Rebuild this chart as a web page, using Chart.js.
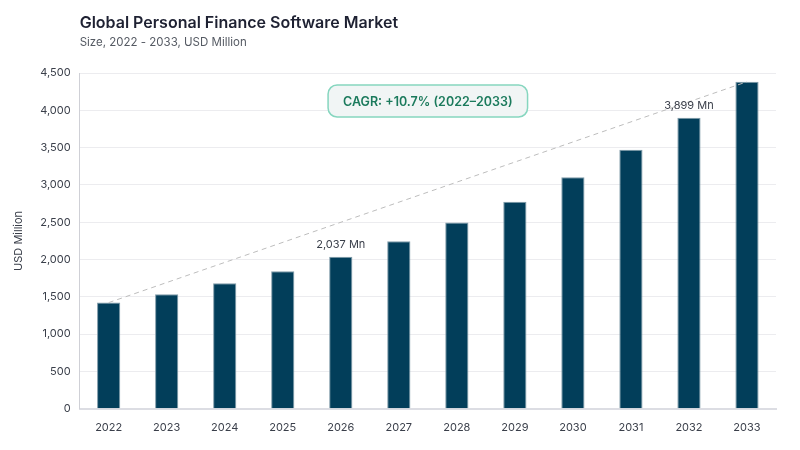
<!DOCTYPE html>
<html>
<head>
<meta charset="utf-8">
<script src="https://cdn.jsdelivr.net/npm/chart.js@4"></script>
<style>
  html, body { margin: 0; padding: 0; background: #fff; }
  #wrap { width: 800px; height: 450px; }
</style>
</head>
<body>
<div id="wrap"><canvas id="marketChart" width="800" height="450"></canvas></div>
<script>
const years = ['2022', '2023', '2024', '2025', '2026', '2027', '2028', '2029', '2030', '2031', '2032', '2033'];
const marketSize = [1423, 1536, 1683, 1844, 2037, 2245, 2495, 2776, 3102, 3472, 3899, 4383];
const yTicks = [0, 500, 1000, 1500, 2000, 2500, 3000, 3500, 4000, 4500];
const calloutYears = ['2026', '2032'];
const cagrText = 'CAGR: +10.7% (2022\u20132033)';

// trend line only from first to last year
const trend = marketSize.map((v, i) => (i === 0 || i === marketSize.length - 1) ? v : null);

const fontFamily = 'Inter, "Noto Sans", sans-serif';

const extrasPlugin = {
    id: 'extras',
    afterDatasetsDraw(chart) {
        const ctx = chart.ctx;
        const x = chart.scales.x;
        const y = chart.scales.y;
        const area = chart.chartArea;
        ctx.save();

        // title and subtitle
        ctx.textAlign = 'left';
        ctx.textBaseline = 'alphabetic';
        ctx.fillStyle = '#1e2132';
        ctx.font = '600 16px ' + fontFamily;
        ctx.fillText('Global Personal Finance Software Market', area.left, 28);
        ctx.fillStyle = '#555a63';
        ctx.font = '11.5px ' + fontFamily;
        ctx.fillText('Size, 2022 - 2033, USD Million', area.left, 46);

        // value callouts
        ctx.fillStyle = '#3a3f4a';
        ctx.font = '11px ' + fontFamily;
        ctx.textAlign = 'center';
        calloutYears.forEach(yr => {
            const i = years.indexOf(yr);
            const v = marketSize[i];
            ctx.fillText(v.toLocaleString('en-US') + ' Mn', x.getPixelForValue(i), y.getPixelForValue(v) - 9);
        });

        // CAGR box
        const cx = x.getPixelForValue(5.5);
        const cy = area.top + 28;
        ctx.font = '600 12.5px ' + fontFamily;
        const w = ctx.measureText(cagrText).width + 30;
        const h = 32;
        ctx.beginPath();
        ctx.roundRect(cx - w / 2, cy - h / 2, w, h, 9);
        ctx.fillStyle = '#f1f5f5';
        ctx.fill();
        ctx.lineWidth = 1.5;
        ctx.strokeStyle = '#86d6bf';
        ctx.stroke();
        ctx.fillStyle = '#1b7a5c';
        ctx.textBaseline = 'middle';
        ctx.fillText(cagrText, cx, cy + 1);
        ctx.restore();
    }
};

const ctx = document.getElementById('marketChart').getContext('2d');
new Chart(ctx, {
    type: 'bar',
    data: {
        labels: years,
        datasets: [
            {
                type: 'line',
                label: 'Trend',
                data: trend,
                spanGaps: true,
                borderColor: '#bdbdbd',
                borderWidth: 1,
                borderDash: [5, 4],
                pointRadius: 0,
                fill: false,
                order: 0
            },
            {
                label: 'Market Size',
                data: marketSize,
                backgroundColor: '#023e5a',
                borderColor: '#7f9aa8',
                borderWidth: 1,
                barPercentage: 0.4,
                categoryPercentage: 1,
                order: 1
            }
        ]
    },
    plugins: [extrasPlugin],
    options: {
        responsive: false,
        animation: false,
        devicePixelRatio: 1,
        layout: { padding: { top: 73, right: 24, left: 8, bottom: 12 } },
        plugins: {
            legend: { display: false },
            tooltip: { enabled: false }
        },
        scales: {
            x: {
                grid: { display: false },
                border: { color: '#dcdde3', width: 2 },
                ticks: { color: '#3a3f4a', font: { family: fontFamily, size: 11 }, padding: 4 }
            },
            y: {
                min: 0,
                max: 4500,
                afterBuildTicks: axis => { axis.ticks = yTicks.map(v => ({ value: v })); },
                grid: { color: '#ececef', drawTicks: false },
                border: { color: '#cfd0d6', width: 1 },
                ticks: {
                    color: '#3a3f4a',
                    font: { family: fontFamily, size: 11 },
                    padding: 9,
                    callback: v => v.toLocaleString('en-US')
                },
                title: {
                    display: true,
                    text: 'USD Million',
                    color: '#3a3f4a',
                    font: { family: fontFamily, size: 11 },
                    padding: { bottom: 6 }
                }
            }
        }
    }
});
</script>
</body>
</html>
